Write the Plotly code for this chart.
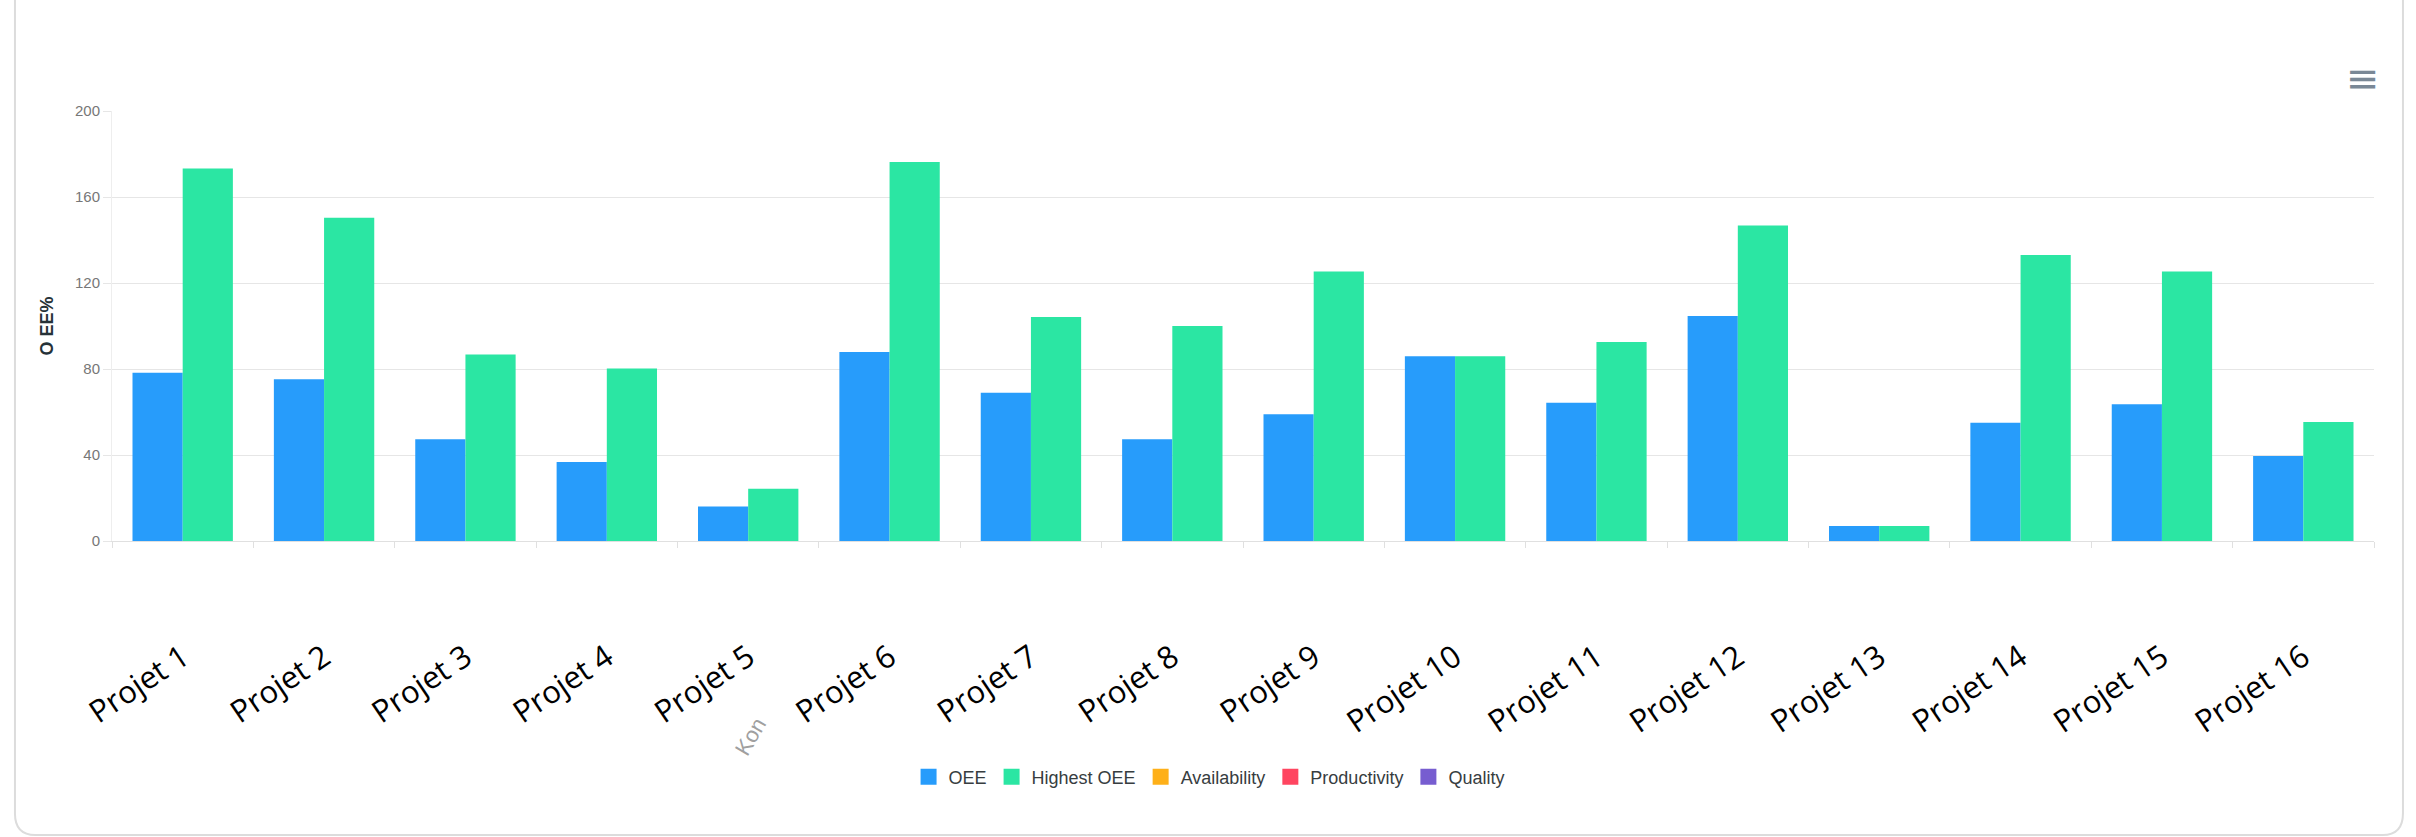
import plotly.graph_objects as go

categories = [f"Projet {i}" for i in range(1, 17)]
oee = [78.3, 75.2, 47.3, 36.7, 16.0, 87.9, 69.0, 47.3, 58.9, 85.9, 64.3, 104.7, 7.0, 55.0, 63.6, 39.5]
highest_oee = [173.3, 150.4, 86.8, 80.2, 24.3, 176.3, 104.2, 100.0, 125.3, 85.9, 92.6, 146.8, 7.0, 133.0, 125.3, 55.3]
legend_names = ["OEE", "Highest OEE", "Availability", "Productivity", "Quality"]
legend_colors = ["#279CFB", "#2BE6A3", "#FEB019", "#FF4560", "#775DD0"]
y_ticks = [0, 40, 80, 120, 160, 200]

fig = go.Figure()
fig.add_trace(go.Bar(x=categories, y=oee, name="OEE", marker_color=legend_colors[0],
                     marker_line_width=0, showlegend=False))
fig.add_trace(go.Bar(x=categories, y=highest_oee, name="Highest OEE", marker_color=legend_colors[1],
                     marker_line_width=0, showlegend=False))
for name, color in zip(legend_names, legend_colors):
    fig.add_trace(go.Scatter(x=[None], y=[None], mode="markers", name=name,
                             marker=dict(symbol="square", size=19, color=color)))

fig.update_layout(
    width=2416, height=837,
    margin=dict(l=112, r=42, t=111, b=296),
    paper_bgcolor="white", plot_bgcolor="white",
    barmode="group", bargap=0.29, bargroupgap=0,
    font=dict(family="Liberation Sans, Arial, sans-serif", color="#777777"),
    legend=dict(orientation="h", x=0.485, xanchor="center", y=-0.549, yanchor="middle",
                font=dict(size=18, color="#373d3f"), itemsizing="trace",
                traceorder="normal"),
)
fig.update_xaxes(
    type="category", showgrid=False, showline=True, linecolor="#e0e0e0", linewidth=1,
    ticks="outside", tickson="boundaries", ticklen=6, tickcolor="#e0e0e0",
    tickangle=-34, ticklabelstandoff=85,
    tickfont=dict(family="Open Sans, sans-serif", size=31, color="#000000"),
)
fig.update_yaxes(
    range=[0, 200], tickvals=y_ticks, showgrid=True, gridcolor="#e6e6e6", gridwidth=1,
    showline=True, linecolor="#eeeeee", zeroline=False,
    ticks="outside", ticklen=8, tickcolor="#e6e6e6",
    tickfont=dict(size=15, color="#777777"),
    title=dict(text="<b>O EE%</b>", font=dict(size=18, color="#263238", family="Liberation Sans, Arial"), standoff=16),
)

# card outline (rounded bottom corners)
xl, xr = -0.0429, 1.0128
yt, yb = 1.4, -0.684
rx, ry = 0.009, 0.05
path = (f"M {xl},{yt} L {xl},{yb+ry} Q {xl},{yb} {xl+rx},{yb} "
        f"L {xr-rx},{yb} Q {xr},{yb} {xr},{yb+ry} L {xr},{yt}")
fig.add_shape(type="path", path=path, xref="paper", yref="paper",
              line=dict(color="#dcdcdc", width=2), layer="below")

# menu icon
fig.add_annotation(text="≡", xref="paper", yref="paper", x=1.0035, y=1.135,
                   showarrow=False, font=dict(size=40, color="#7A8896", family="DejaVu Sans"))
# faint leftover label
fig.add_annotation(text="Kon", xref="paper", yref="paper", x=0.272, y=-0.515,
                   showarrow=False, textangle=-60,
                   font=dict(size=22, color="#a0a0a0", family="Liberation Sans, Arial"))

fig.write_html("out.html")
